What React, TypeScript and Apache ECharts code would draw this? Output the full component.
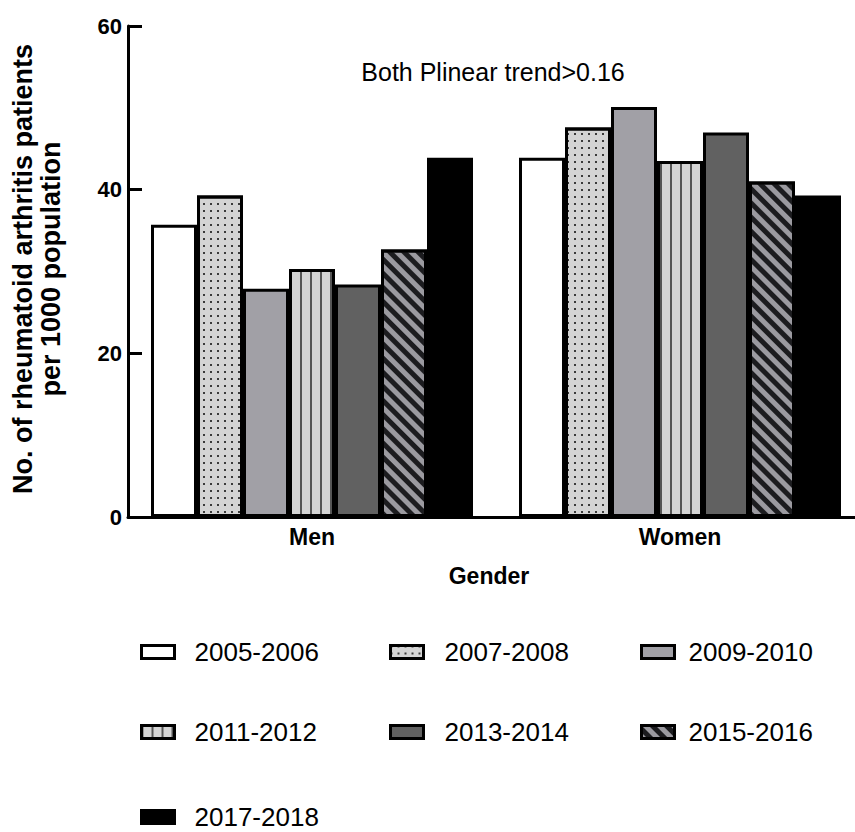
import React, { useEffect, useRef } from 'react';
import * as echarts from 'echarts';

// ---------- data ----------
const categories = ['Men', 'Women'];
const periods = ['2005-2006', '2007-2008', '2009-2010', '2011-2012', '2013-2014', '2015-2016', '2017-2018'];
const values2005_2006 = [35.7, 43.9];
const values2007_2008 = [39.3, 47.6];
const values2009_2010 = [27.9, 50.1];
const values2011_2012 = [30.3, 43.5];
const values2013_2014 = [28.4, 47.0];
const values2015_2016 = [32.7, 41.0];
const values2017_2018 = [43.9, 39.3];
const seriesValues = [
  values2005_2006, values2007_2008, values2009_2010, values2011_2012,
  values2013_2014, values2015_2016, values2017_2018,
];
const yMin = 0;
const yMax = 60;
const yInterval = 20;
const annotationText = 'Both Plinear trend>0.16';
const yAxisTitle = 'No. of rheumatoid arthritis patients\nper 1000 population';
const xAxisTitle = 'Gender';

const FONT = 'Liberation Sans, Arial, Helvetica, sans-serif';

// ---------- styles ----------
const seriesStyles: any[] = [
  { color: '#ffffff' },
  {
    color: '#d4d4d4',
    decal: { symbol: 'rect', symbolSize: 1, dashArrayX: [2, 4.3], dashArrayY: [2, 4.3], color: '#3a3a3a' },
  },
  { color: '#a1a0a6' },
  {
    color: '#d4d4d4',
    decal: { symbol: 'rect', symbolSize: 1, dashArrayX: [2, 8], dashArrayY: [1, 0], color: '#555555' },
  },
  { color: '#616161' },
  {
    color: '#9b9aa0',
    decal: { symbol: 'rect', symbolSize: 1, dashArrayX: [1, 0], dashArrayY: [5, 5], rotation: Math.PI / 4, color: '#1c1c1f' },
  },
  { color: '#000000' },
];

const legendIconLeft = [140, 389, 640];
const legendTextPad = [15, 16, 9];
const legendRowTop = [639, 719, 804];

export default function App() {
  const ref = useRef<HTMLDivElement>(null);

  useEffect(() => {
    document.body.style.margin = '0';
    if (!ref.current) return;
    const chart = echarts.init(ref.current, undefined, { renderer: 'svg' });

    const series = periods.map((name, i) => ({
      name,
      type: 'bar',
      data: seriesValues[i],
      barGap: '0%',
      barCategoryGap: '12.5%',
      itemStyle: {
        ...seriesStyles[i],
        borderColor: '#000000',
        borderWidth: 3,
      },
      emphasis: { disabled: true },
    }));

    const legends = periods.map((name, i) => {
      const row = Math.floor(i / 3);
      const col = i % 3;
      return {
        data: [name],
        left: legendIconLeft[col],
        top: legendRowTop[row],
        padding: 0,
        itemGap: 0,
        itemWidth: 33,
        itemHeight: 13,
        selectedMode: false,
        icon: 'rect',
        itemStyle: { borderWidth: 3, borderColor: '#000000' },
        textStyle: {
          fontSize: 26,
          lineHeight: 22,
          fontFamily: FONT,
          color: '#000000',
          padding: [0, 0, 0, legendTextPad[col]],
        },
      };
    });

    chart.setOption({
      animation: false,
      backgroundColor: '#ffffff',
      grid: { left: 128, top: 26, width: 736, height: 491, containLabel: false },
      legend: legends,
      xAxis: {
        type: 'category',
        data: categories,
        axisLine: { lineStyle: { color: '#000000', width: 3 } },
        axisTick: { show: false },
        axisLabel: {
          fontSize: 23,
          fontWeight: 'bold',
          fontFamily: FONT,
          color: '#000000',
          margin: 8,
        },
      },
      yAxis: {
        type: 'value',
        min: yMin,
        max: yMax,
        interval: yInterval,
        axisLine: { show: true, lineStyle: { color: '#000000', width: 3 } },
        axisTick: { show: true, inside: true, length: 14, lineStyle: { color: '#000000', width: 3 } },
        splitLine: { show: false },
        axisLabel: {
          fontSize: 22,
          fontWeight: 'bold',
          fontFamily: FONT,
          color: '#000000',
          margin: 6,
        },
      },
      series,
      graphic: [
        {
          type: 'text',
          x: 37,
          y: 269,
          rotation: Math.PI / 2,
          style: {
            text: yAxisTitle,
            align: 'center',
            verticalAlign: 'middle',
            fontSize: 27,
            fontWeight: 'bold',
            fontFamily: FONT,
            lineHeight: 28,
            fill: '#000000',
          },
        },
        {
          type: 'text',
          x: 489,
          y: 576,
          style: {
            text: xAxisTitle,
            align: 'center',
            verticalAlign: 'middle',
            fontSize: 23,
            fontWeight: 'bold',
            fontFamily: FONT,
            fill: '#000000',
          },
        },
        {
          type: 'text',
          x: 493,
          y: 72,
          style: {
            text: annotationText,
            align: 'center',
            verticalAlign: 'middle',
            fontSize: 25,
            fontFamily: FONT,
            fill: '#000000',
          },
        },
      ],
    });

    return () => {
      chart.dispose();
    };
  }, []);

  return (
    <div style={{ width: 855, height: 832, overflow: 'hidden', position: 'relative' }}>
      <div ref={ref} style={{ width: 880, height: 832 }} />
    </div>
  );
}
